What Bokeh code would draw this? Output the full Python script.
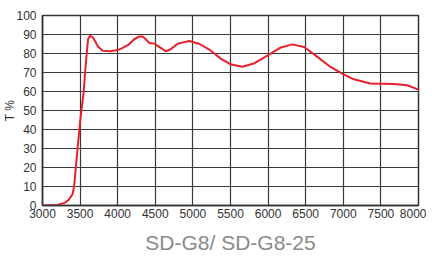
from bokeh.plotting import figure
from bokeh.models import Title, FixedTicker, Range1d
from bokeh.embed import file_html
from bokeh.resources import INLINE

wavelength = [3000, 3200, 3300, 3350, 3400, 3420, 3464, 3500, 3520, 3548, 3566,
              3588, 3606, 3632, 3670, 3740, 3800, 3900, 4000, 4060, 4140, 4220,
              4290, 4330, 4380, 4420, 4490, 4560, 4640, 4690, 4800, 4950, 5090,
              5240, 5370, 5510, 5660, 5820, 5990, 6170, 6320, 6480, 6660, 6830,
              6990, 7140, 7360, 7670, 7850, 8000]
transmission = [0, 0.3, 1.5, 3, 6, 10, 29, 44, 51, 60, 70,
                80, 87.5, 89.3, 88.5, 83.6, 81.5, 81.2, 81.8, 82.8, 84.5, 87.5,
                89.0, 88.9, 87.2, 85.5, 85.2, 83.2, 81.2, 81.8, 85.2, 86.6, 85.0,
                81.5, 77.3, 74.2, 73.0, 74.9, 78.9, 83.2, 84.8, 83.4, 78.1, 72.9,
                69.3, 66.4, 64.2, 64.0, 63.3, 61.0]
x_ticks = [3000, 3500, 4000, 4500, 5000, 5500, 6000, 6500, 7000, 7500, 8000]
y_ticks = [0, 10, 20, 30, 40, 50, 60, 70, 80, 90, 100]
y_label = "T %"
caption = "SD-G8/ SD-G8-25"

p = figure(width=426, height=262, output_backend="svg",
           toolbar_location=None, x_range=Range1d(3000, 8000),
           y_range=Range1d(0, 100), min_border_left=41, min_border_top=15,
           min_border_right=8, min_border_bottom=57)
p.background_fill_color = "white"
p.border_fill_color = "white"
p.outline_line_color = "#333333"
p.outline_line_width = 1.5

for ax in (p.xaxis, p.yaxis):
    ax.major_tick_line_color = None
    ax.minor_tick_line_color = None
    ax.axis_line_color = "#333333"
    ax.axis_line_width = 1.5
    ax.major_label_text_font = "Liberation Sans"
    ax.major_label_text_font_size = "12px"
    ax.major_label_text_color = "#333333"
    ax.major_tick_out = 0
    ax.major_tick_in = 0

p.xaxis.ticker = FixedTicker(ticks=x_ticks)
p.yaxis.ticker = FixedTicker(ticks=y_ticks)
p.xaxis.major_label_standoff = 3
p.yaxis.major_label_standoff = 6
p.yaxis.axis_label = y_label
p.yaxis.axis_label_text_font = "Liberation Sans"
p.yaxis.axis_label_text_font_style = "normal"
p.yaxis.axis_label_text_font_size = "12px"
p.yaxis.axis_label_text_color = "#333333"
p.yaxis.axis_label_standoff = -4

p.xgrid.ticker = FixedTicker(ticks=x_ticks)
p.ygrid.ticker = FixedTicker(ticks=y_ticks)
for g in (p.xgrid, p.ygrid):
    g.grid_line_color = "#3a3a3a"
    g.grid_line_width = 1.2
    g.grid_line_alpha = 1

p.line(wavelength, transmission, line_color="#e8202a", line_width=2)

t = Title(text=caption, align="center", text_font="Liberation Sans",
          text_font_size="21px", text_font_style="normal",
          text_color="#8a8a8a", standoff=16, offset=-20)
p.add_layout(t, "below")

open("out.html", "w").write(file_html(p, INLINE))
